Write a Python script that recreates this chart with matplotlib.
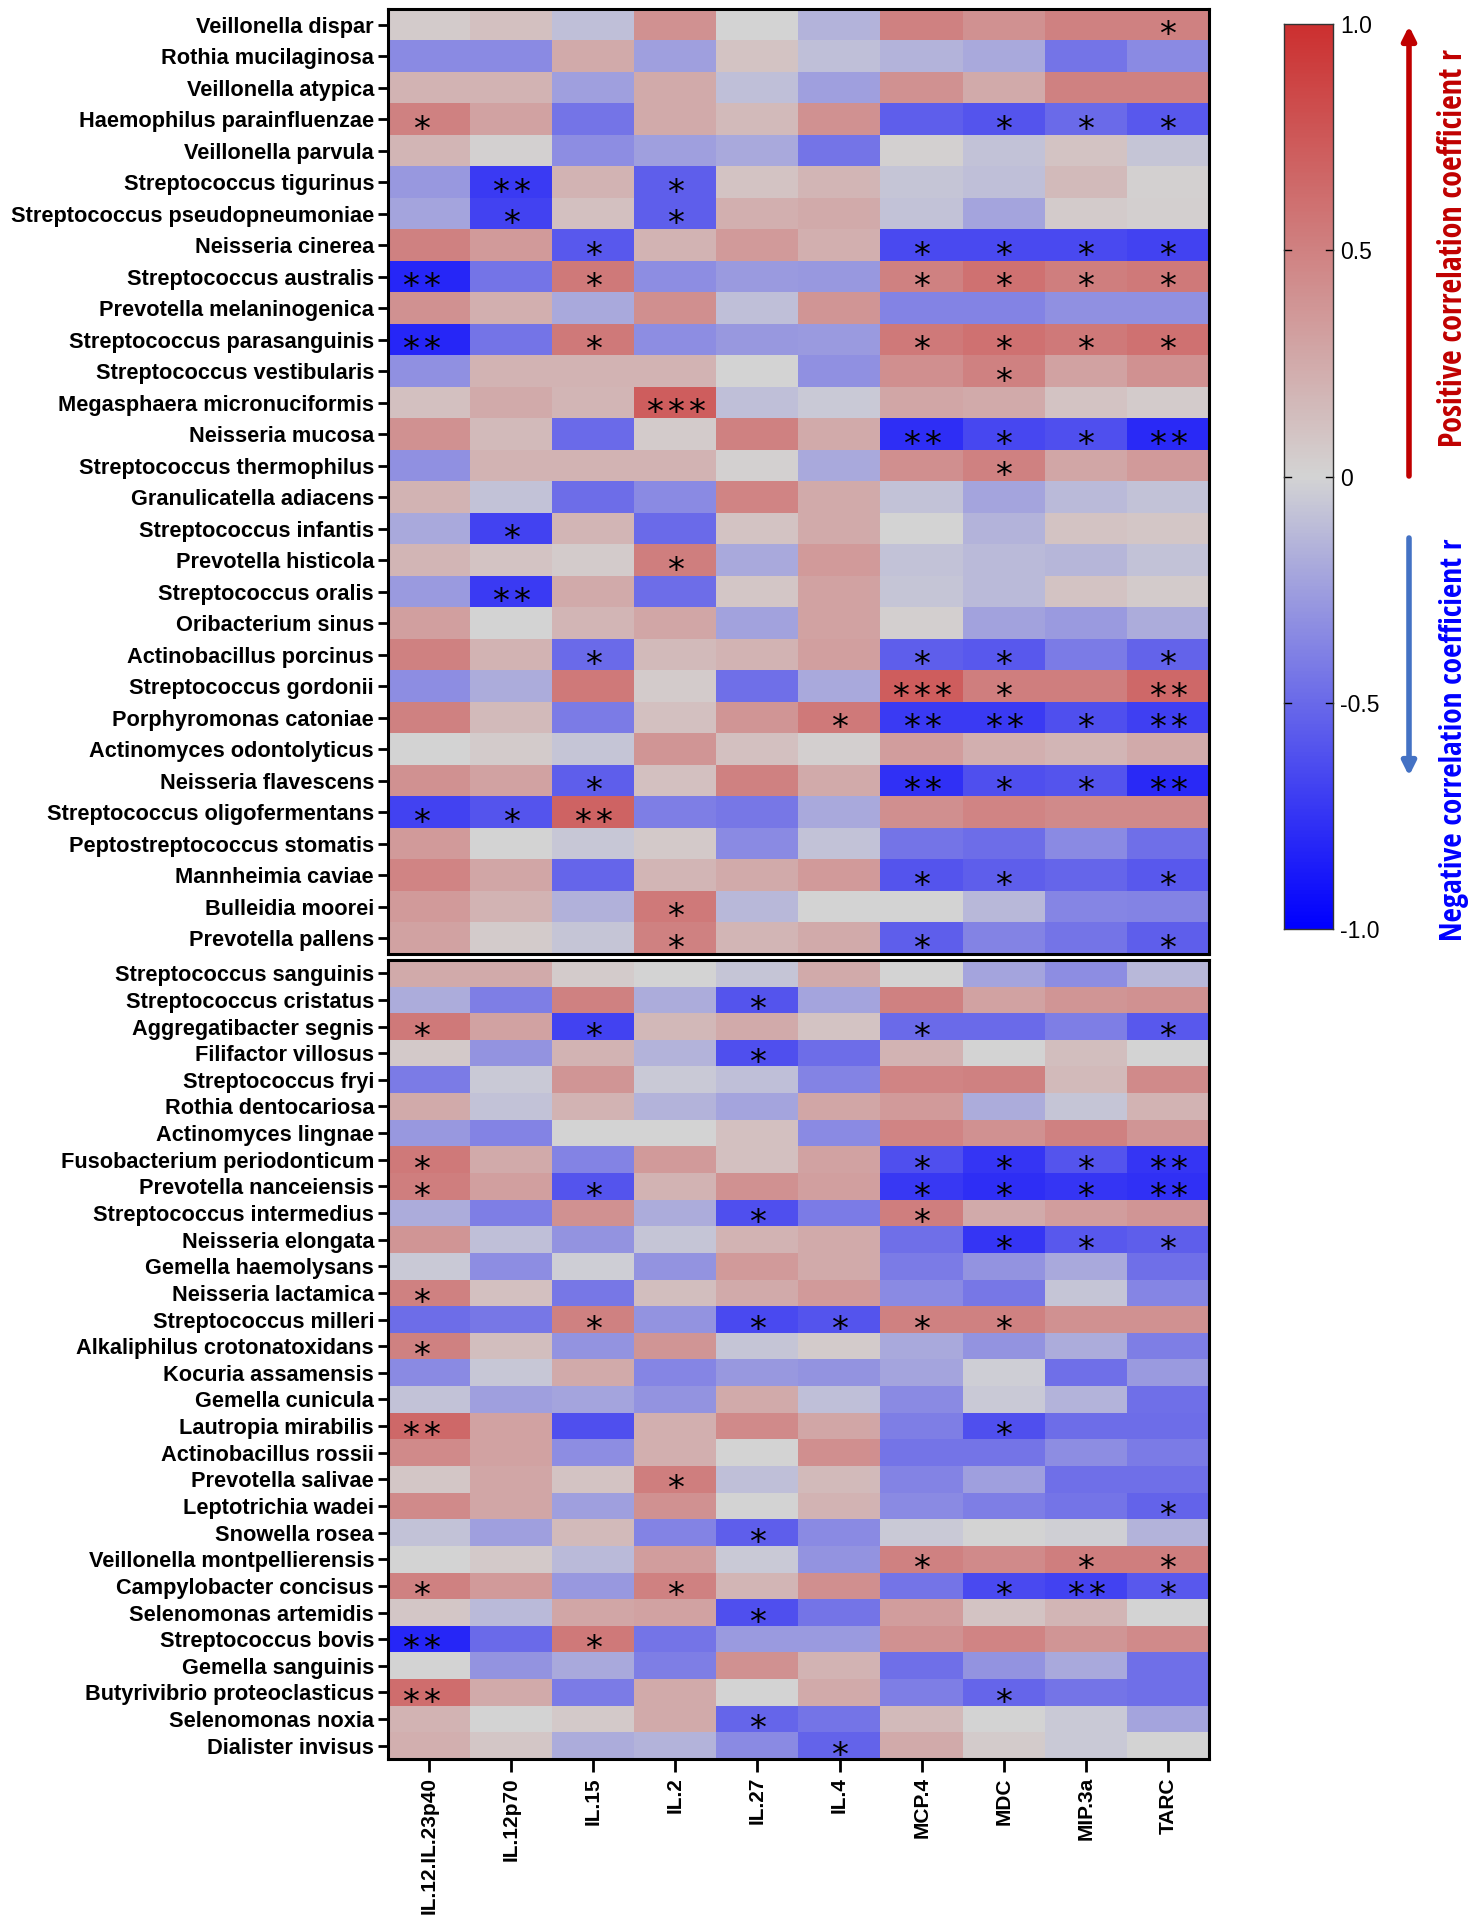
import numpy as np
import matplotlib
matplotlib.use("Agg")
import matplotlib.pyplot as plt
import matplotlib.font_manager as fm
from matplotlib.colors import LinearSegmentedColormap
from matplotlib.textpath import TextPath
from matplotlib.transforms import ScaledTranslation

cytokines = ["IL.12.IL.23p40", "IL.12p70", "IL.15", "IL.2", "IL.27", "IL.4",
             "MCP.4", "MDC", "MIP.3a", "TARC"]

species_top = [
    "Veillonella dispar", "Rothia mucilaginosa", "Veillonella atypica",
    "Haemophilus parainfluenzae", "Veillonella parvula", "Streptococcus tigurinus",
    "Streptococcus pseudopneumoniae", "Neisseria cinerea", "Streptococcus australis",
    "Prevotella melaninogenica", "Streptococcus parasanguinis", "Streptococcus vestibularis",
    "Megasphaera micronuciformis", "Neisseria mucosa", "Streptococcus thermophilus",
    "Granulicatella adiacens", "Streptococcus infantis", "Prevotella histicola",
    "Streptococcus oralis", "Oribacterium sinus", "Actinobacillus porcinus",
    "Streptococcus gordonii", "Porphyromonas catoniae", "Actinomyces odontolyticus",
    "Neisseria flavescens", "Streptococcus oligofermentans", "Peptostreptococcus stomatis",
    "Mannheimia caviae", "Bulleidia moorei", "Prevotella pallens",
]

species_bottom = [
    "Streptococcus sanguinis", "Streptococcus cristatus", "Aggregatibacter segnis",
    "Filifactor villosus", "Streptococcus fryi", "Rothia dentocariosa",
    "Actinomyces lingnae", "Fusobacterium periodonticum", "Prevotella nanceiensis",
    "Streptococcus intermedius", "Neisseria elongata", "Gemella haemolysans",
    "Neisseria lactamica", "Streptococcus milleri", "Alkaliphilus crotonatoxidans",
    "Kocuria assamensis", "Gemella cunicula", "Lautropia mirabilis",
    "Actinobacillus rossii", "Prevotella salivae", "Leptotrichia wadei",
    "Snowella rosea", "Veillonella montpellierensis", "Campylobacter concisus",
    "Selenomonas artemidis", "Streptococcus bovis", "Gemella sanguinis",
    "Butyrivibrio proteoclasticus", "Selenomonas noxia", "Dialister invisus",
]

r_top = [
    [0.05, 0.12, -0.10, 0.40, 0.00, -0.15, 0.50, 0.40, 0.50, 0.50],
    [-0.35, -0.35, 0.25, -0.25, 0.10, -0.10, -0.15, -0.20, -0.45, -0.35],
    [0.20, 0.20, -0.25, 0.25, -0.10, -0.25, 0.40, 0.25, 0.50, 0.50],
    [0.50, 0.30, -0.45, 0.25, 0.15, 0.40, -0.55, -0.60, -0.50, -0.58],
    [0.18, 0.02, -0.33, -0.25, -0.20, -0.45, 0.02, -0.08, 0.10, -0.07],
    [-0.28, -0.72, 0.20, -0.55, 0.10, 0.18, -0.07, -0.10, 0.15, 0.02],
    [-0.22, -0.68, 0.12, -0.55, 0.22, 0.25, -0.08, -0.22, 0.05, 0.03],
    [0.50, 0.35, -0.58, 0.20, 0.35, 0.22, -0.65, -0.65, -0.65, -0.68],
    [-0.82, -0.45, 0.55, -0.33, -0.27, -0.28, 0.50, 0.60, 0.52, 0.55],
    [0.40, 0.22, -0.20, 0.42, -0.10, 0.38, -0.38, -0.38, -0.32, -0.32],
    [-0.82, -0.45, 0.55, -0.33, -0.28, -0.27, 0.55, 0.60, 0.55, 0.60],
    [-0.32, 0.20, 0.20, 0.20, 0.00, -0.32, 0.42, 0.50, 0.30, 0.40],
    [0.12, 0.25, 0.18, 0.72, -0.10, -0.05, 0.28, 0.25, 0.10, 0.05],
    [0.40, 0.15, -0.50, 0.05, 0.50, 0.25, -0.78, -0.66, -0.62, -0.80],
    [-0.32, 0.20, 0.20, 0.20, 0.02, -0.20, 0.42, 0.50, 0.28, 0.35],
    [0.20, -0.08, -0.48, -0.35, 0.48, 0.25, -0.08, -0.22, -0.12, -0.08],
    [-0.20, -0.68, 0.18, -0.50, 0.10, 0.25, 0.00, -0.15, 0.10, 0.08],
    [0.18, 0.10, 0.05, 0.52, -0.20, 0.35, -0.08, -0.12, -0.14, -0.08],
    [-0.27, -0.72, 0.25, -0.48, 0.08, 0.30, -0.07, -0.12, 0.10, 0.05],
    [0.32, 0.00, 0.18, 0.28, -0.23, 0.30, 0.03, -0.23, -0.27, -0.18],
    [0.50, 0.20, -0.50, 0.15, 0.20, 0.32, -0.55, -0.58, -0.42, -0.53],
    [-0.33, -0.18, 0.55, 0.05, -0.47, -0.20, 0.72, 0.52, 0.52, 0.65],
    [0.50, 0.15, -0.42, 0.12, 0.38, 0.55, -0.72, -0.72, -0.62, -0.70],
    [0.00, 0.05, -0.07, 0.38, 0.12, 0.03, 0.33, 0.22, 0.18, 0.25],
    [0.40, 0.30, -0.55, 0.12, 0.50, 0.25, -0.77, -0.62, -0.60, -0.80],
    [-0.68, -0.60, 0.68, -0.40, -0.43, -0.20, 0.42, 0.48, 0.45, 0.45],
    [0.35, 0.00, -0.06, 0.07, -0.35, -0.08, -0.45, -0.48, -0.35, -0.47],
    [0.48, 0.28, -0.52, 0.18, 0.25, 0.35, -0.60, -0.55, -0.52, -0.58],
    [0.35, 0.20, -0.16, 0.55, -0.13, 0.00, 0.00, -0.13, -0.37, -0.38],
    [0.30, 0.05, -0.07, 0.50, 0.18, 0.25, -0.55, -0.38, -0.45, -0.55],
]

r_bottom = [
    [0.25, 0.25, 0.05, 0.00, -0.07, 0.25, 0.00, -0.22, -0.33, -0.13],
    [-0.18, -0.40, 0.50, -0.18, -0.60, -0.22, 0.50, 0.30, 0.38, 0.40],
    [0.55, 0.30, -0.68, 0.17, 0.25, 0.10, -0.50, -0.50, -0.40, -0.58],
    [0.07, -0.30, 0.20, -0.15, -0.62, -0.48, 0.20, 0.00, 0.13, 0.00],
    [-0.42, -0.05, 0.38, -0.05, -0.10, -0.38, 0.48, 0.50, 0.15, 0.45],
    [0.25, -0.08, 0.20, -0.15, -0.22, 0.28, 0.35, -0.18, -0.07, 0.20],
    [-0.28, -0.38, 0.00, 0.00, 0.12, -0.35, 0.48, 0.40, 0.50, 0.38],
    [0.55, 0.25, -0.38, 0.35, 0.12, 0.30, -0.62, -0.75, -0.60, -0.75],
    [0.52, 0.32, -0.60, 0.20, 0.40, 0.32, -0.73, -0.78, -0.75, -0.77],
    [-0.18, -0.40, 0.40, -0.18, -0.62, -0.42, 0.52, 0.25, 0.33, 0.38],
    [0.38, -0.10, -0.30, -0.07, 0.20, 0.25, -0.47, -0.75, -0.58, -0.55],
    [-0.05, -0.33, -0.03, -0.30, 0.35, 0.25, -0.42, -0.30, -0.20, -0.47],
    [0.50, 0.12, -0.43, 0.13, 0.25, 0.35, -0.35, -0.43, -0.07, -0.37],
    [-0.48, -0.43, 0.50, -0.30, -0.65, -0.60, 0.50, 0.50, 0.40, 0.40],
    [0.50, 0.13, -0.30, 0.38, -0.07, 0.05, -0.20, -0.30, -0.18, -0.40],
    [-0.35, -0.06, 0.25, -0.37, -0.28, -0.30, -0.22, -0.03, -0.47, -0.27],
    [-0.08, -0.25, -0.22, -0.30, 0.25, -0.10, -0.35, -0.05, -0.15, -0.47],
    [0.65, 0.30, -0.62, 0.22, 0.45, 0.28, -0.40, -0.62, -0.48, -0.48],
    [0.45, 0.30, -0.33, 0.22, 0.00, 0.42, -0.45, -0.45, -0.33, -0.42],
    [0.08, 0.28, 0.10, 0.52, -0.10, 0.15, -0.38, -0.25, -0.47, -0.47],
    [0.45, 0.28, -0.25, 0.40, 0.00, 0.20, -0.35, -0.40, -0.45, -0.53],
    [-0.08, -0.25, 0.15, -0.38, -0.55, -0.35, -0.05, 0.00, -0.02, -0.15],
    [0.00, 0.07, -0.12, 0.33, -0.05, -0.30, 0.50, 0.45, 0.52, 0.52],
    [0.50, 0.35, -0.28, 0.50, 0.18, 0.42, -0.45, -0.65, -0.68, -0.58],
    [0.08, -0.12, 0.28, 0.30, -0.62, -0.45, 0.33, 0.10, 0.18, 0.00],
    [-0.82, -0.50, 0.55, -0.45, -0.27, -0.27, 0.40, 0.48, 0.38, 0.45],
    [0.00, -0.30, -0.20, -0.40, 0.40, 0.20, -0.47, -0.30, -0.20, -0.47],
    [0.62, 0.25, -0.42, 0.25, 0.00, 0.25, -0.40, -0.52, -0.45, -0.47],
    [0.20, 0.00, 0.07, 0.25, -0.52, -0.45, 0.15, 0.00, -0.05, -0.22],
    [0.22, 0.08, -0.18, -0.15, -0.35, -0.53, 0.25, 0.05, -0.05, 0.00],
]

sig_top = [
    ["", "", "", "", "", "", "", "", "", "*"],
    ["", "", "", "", "", "", "", "", "", ""],
    ["", "", "", "", "", "", "", "", "", ""],
    ["*", "", "", "", "", "", "", "*", "*", "*"],
    ["", "", "", "", "", "", "", "", "", ""],
    ["", "**", "", "*", "", "", "", "", "", ""],
    ["", "*", "", "*", "", "", "", "", "", ""],
    ["", "", "*", "", "", "", "*", "*", "*", "*"],
    ["**", "", "*", "", "", "", "*", "*", "*", "*"],
    ["", "", "", "", "", "", "", "", "", ""],
    ["**", "", "*", "", "", "", "*", "*", "*", "*"],
    ["", "", "", "", "", "", "", "*", "", ""],
    ["", "", "", "***", "", "", "", "", "", ""],
    ["", "", "", "", "", "", "**", "*", "*", "**"],
    ["", "", "", "", "", "", "", "*", "", ""],
    ["", "", "", "", "", "", "", "", "", ""],
    ["", "*", "", "", "", "", "", "", "", ""],
    ["", "", "", "*", "", "", "", "", "", ""],
    ["", "**", "", "", "", "", "", "", "", ""],
    ["", "", "", "", "", "", "", "", "", ""],
    ["", "", "*", "", "", "", "*", "*", "", "*"],
    ["", "", "", "", "", "", "***", "*", "", "**"],
    ["", "", "", "", "", "*", "**", "**", "*", "**"],
    ["", "", "", "", "", "", "", "", "", ""],
    ["", "", "*", "", "", "", "**", "*", "*", "**"],
    ["*", "*", "**", "", "", "", "", "", "", ""],
    ["", "", "", "", "", "", "", "", "", ""],
    ["", "", "", "", "", "", "*", "*", "", "*"],
    ["", "", "", "*", "", "", "", "", "", ""],
    ["", "", "", "*", "", "", "*", "", "", "*"],
]

sig_bottom = [
    ["", "", "", "", "", "", "", "", "", ""],
    ["", "", "", "", "*", "", "", "", "", ""],
    ["*", "", "*", "", "", "", "*", "", "", "*"],
    ["", "", "", "", "*", "", "", "", "", ""],
    ["", "", "", "", "", "", "", "", "", ""],
    ["", "", "", "", "", "", "", "", "", ""],
    ["", "", "", "", "", "", "", "", "", ""],
    ["*", "", "", "", "", "", "*", "*", "*", "**"],
    ["*", "", "*", "", "", "", "*", "*", "*", "**"],
    ["", "", "", "", "*", "", "*", "", "", ""],
    ["", "", "", "", "", "", "", "*", "*", "*"],
    ["", "", "", "", "", "", "", "", "", ""],
    ["*", "", "", "", "", "", "", "", "", ""],
    ["", "", "*", "", "*", "*", "*", "*", "", ""],
    ["*", "", "", "", "", "", "", "", "", ""],
    ["", "", "", "", "", "", "", "", "", ""],
    ["", "", "", "", "", "", "", "", "", ""],
    ["**", "", "", "", "", "", "", "*", "", ""],
    ["", "", "", "", "", "", "", "", "", ""],
    ["", "", "", "*", "", "", "", "", "", ""],
    ["", "", "", "", "", "", "", "", "", "*"],
    ["", "", "", "", "*", "", "", "", "", ""],
    ["", "", "", "", "", "", "*", "", "*", "*"],
    ["*", "", "", "*", "", "", "", "*", "**", "*"],
    ["", "", "", "", "*", "", "", "", "", ""],
    ["**", "", "*", "", "", "", "", "", "", ""],
    ["", "", "", "", "", "", "", "", "", ""],
    ["**", "", "", "", "", "", "", "*", "", ""],
    ["", "", "", "", "*", "", "", "", "", ""],
    ["", "", "", "", "", "*", "", "", "", ""],
]

cbar_ticks = [-1.0, -0.5, 0, 0.5, 1.0]
cbar_ticklabels = ["-1.0", "-0.5", "0", "0.5", "1.0"]

plt.rcParams['font.family'] = ['Liberation Sans', 'DejaVu Sans']

cmap = LinearSegmentedColormap.from_list(
    "bwr_gray", [(0.0, "#0000FF"), (0.5, "#D4D4D4"), (1.0, "#CC3030")])

W, H = 1476, 1920
DPI = 100
fig = plt.figure(figsize=(W / DPI, H / DPI), dpi=DPI)

# ---- star glyph metrics (to place the asterisk glyph itself) ----
star_fp = fm.FontProperties(family=["DejaVu Sans"])
ext = TextPath((0, 0), "*", size=1, prop=star_fp).get_extents()
STAR_H_PX = 15.5
star_px = STAR_H_PX / ext.height          # font size in px
star_pt = star_px * 72 / DPI
star_cx = (ext.x0 + ext.x1) / 2 * star_px
star_cy = (ext.y0 + ext.y1) / 2 * star_px
STAR_SEP_PX = 21


def ax_rect(x0, y0, x1, y1):
    return [x0 / W, 1 - y1 / H, (x1 - x0) / W, (y1 - y0) / H]


def draw_heat(ax, vals, sigs, names, show_x):
    vals = np.array(vals)
    nr, nc = vals.shape
    ax.imshow(vals, cmap=cmap, vmin=-1, vmax=1, aspect="auto",
              interpolation="nearest", extent=(-0.5, nc - 0.5, nr - 0.5, -0.5))
    for i in range(nr):
        for j in range(nc):
            s = sigs[i][j]
            n = len(s)
            for k in range(n):
                dx = (k - (n - 1) / 2) * STAR_SEP_PX - star_cx
                if j == 0:
                    dx -= 8
                dy = -star_cy
                tr = ax.transData + ScaledTranslation(dx / DPI, dy / DPI,
                                                      fig.dpi_scale_trans)
                ax.text(j, i + 0.1, "*", transform=tr, ha="left", va="baseline",
                        fontsize=star_pt, color="black", family=["DejaVu Sans"])
    ax.set_xlim(-0.5, nc - 0.5)
    ax.set_ylim(nr - 0.5, -0.5)
    ax.set_yticks(range(nr))
    ax.set_yticklabels(names, fontsize=15.7, fontweight="bold")
    ax.tick_params(axis="y", length=7, width=2, pad=3)
    if show_x:
        ax.set_xticks(range(nc))
        ax.set_xticklabels(cytokines, rotation=90, fontsize=15, fontweight="bold")
        ax.tick_params(axis="x", length=9, width=2, pad=4)
    else:
        ax.set_xticks([])
    for sp in ax.spines.values():
        sp.set_linewidth(2.2)


ax1 = fig.add_axes(ax_rect(388, 9, 1209, 954))
draw_heat(ax1, r_top, sig_top, species_top, False)
ax2 = fig.add_axes(ax_rect(388, 960, 1209, 1759))
draw_heat(ax2, r_bottom, sig_bottom, species_bottom, True)

# colorbar
cax = fig.add_axes(ax_rect(1284, 24, 1333, 929))
grad = np.linspace(-1, 1, 512).reshape(-1, 1)
cax.imshow(grad, cmap=cmap, vmin=-1, vmax=1, aspect="auto", origin="lower",
           extent=(0, 1, -1, 1))
cax.set_xticks([])
cax.yaxis.tick_right()
cax.set_yticks(cbar_ticks)
cax.set_yticklabels(cbar_ticklabels, fontsize=16.5)
cax.tick_params(axis="y", length=0, pad=5)
for t in cbar_ticks[1:-1]:
    cax.plot([0, 0.14], [t, t], color="black", lw=1, clip_on=False)
    cax.plot([0.86, 1.0], [t, t], color="black", lw=1, clip_on=False)
cax.set_xlim(0, 1)
cax.set_ylim(-1, 1)
for sp in cax.spines.values():
    sp.set_linewidth(1.0)
    sp.set_color("#333333")

# condensed font for the side annotations
def find_condensed():
    prefs = ["opensans_condensed-bold", "opensanscondensed-bold", "opensans-condbold",
             "robotocondensed-bold", "roboto_condensed-bold",
             "liberationsansnarrow-bold.", "dejavusanscondensed-bold."]
    files = [f.fname for f in fm.fontManager.ttflist]
    low = [f.lower().replace(" ", "") for f in files]
    for p in prefs:
        for f, l in zip(files, low):
            if p in l.split("/")[-1]:
                return fm.FontProperties(fname=f)
    for f, l in zip(files, low):
        name = l.split("/")[-1]
        if ("condensed" in name or "narrow" in name) and "bold" in name and "oblique" not in name and "italic" not in name:
            return fm.FontProperties(fname=f)
    return fm.FontProperties(family="Liberation Sans", weight="bold")

side_fp = find_condensed()

aax = fig.add_axes([0, 0, 1, 1])
aax.set_xlim(0, W)
aax.set_ylim(H, 0)
aax.axis("off")
aax.annotate("", xy=(1409, 26), xytext=(1409, 476),
             arrowprops=dict(arrowstyle="-|>,head_width=0.4,head_length=0.8",
                             lw=4, color="#C00000", shrinkA=0, shrinkB=0))
aax.annotate("", xy=(1409, 776), xytext=(1409, 538),
             arrowprops=dict(arrowstyle="-|>,head_width=0.4,head_length=0.8",
                             lw=4, color="#4472C4", shrinkA=0, shrinkB=0))

t1 = aax.text(1454, 248, "Positive correlation coefficient r", rotation=90,
              ha="center", va="center", color="#C00000", fontproperties=side_fp)
t2 = aax.text(1454, 740, "Negative correlation coefficient r", rotation=90,
              ha="center", va="center", color="#0000FF", fontproperties=side_fp)
for t in (t1, t2):
    t.set_fontsize(20)
fig.canvas.draw()
r = fig.canvas.get_renderer()
for t, target in ((t1, 398), (t2, 402)):
    h = t.get_window_extent(r).height
    t.set_fontsize(20 * target / h)

fig.savefig("out.png", dpi=DPI)
